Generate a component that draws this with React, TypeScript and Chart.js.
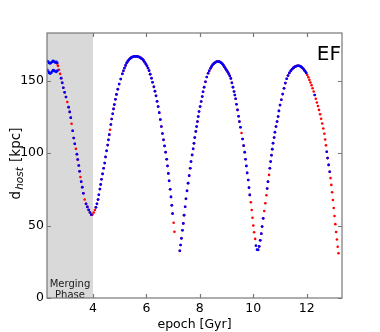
import React, { useEffect, useRef } from 'react';
import { Chart, registerables } from 'chart.js';
Chart.register(...registerables);

const X_MIN = 2.28;
const X_MAX = 13.32;
const Y_MIN = 0;
const Y_MAX = 183;
const xTicks = [4, 6, 8, 10, 12];
const yTicks = [0, 50, 100, 150];
const mergingEnd = 4;
const mergingLabel = ['Merging', 'Phase'];
const panelLabel = 'EF';
const xTitle = 'epoch [Gyr]';
const yTitleMain = 'd';
const yTitleSub = 'host';
const yTitleUnit = ' [kpc]';

// red series: epoch [Gyr], distance [kpc]
const tRed = [
  2.66, 2.69, 2.73, 2.77, 2.81, 2.85, 2.89, 2.94, 2.99, 3.04, 3.09, 3.13, 3.17, 3.20, 3.24, 3.28, 3.32, 3.36, 3.40, 3.43,
  3.47, 3.50, 3.53, 3.56, 3.60, 3.64, 3.69, 3.74, 3.79, 3.84, 3.89, 3.94, 3.98, 4.03, 4.07, 4.11, 4.15, 4.19, 4.22, 4.26,
  4.29, 4.32, 4.36, 4.40, 4.44, 4.47, 4.51, 4.55, 4.58, 4.61, 4.64, 4.67, 4.70, 4.74, 4.77, 4.80, 4.84, 4.88, 4.93, 4.98,
  5.04, 5.10, 5.14, 5.18, 5.22, 5.26, 5.30, 5.34, 5.38, 5.42, 5.46, 5.50, 5.54, 5.58, 5.62, 5.66, 5.70, 5.74, 5.78, 5.82,
  5.86, 5.90, 5.94, 5.98, 6.02, 6.06, 6.10, 6.14, 6.19, 6.23, 6.28, 6.32, 6.36, 6.40, 6.44, 6.48, 6.52, 6.56, 6.60, 6.64,
  6.68, 6.72, 6.76, 6.79, 6.82, 6.85, 6.89, 6.92, 6.95, 6.98, 7.02, 7.05,
  7.25, 7.28, 7.31, 7.35, 7.38, 7.41, 7.45, 7.48, 7.52, 7.56, 7.60, 7.64, 7.67, 7.71, 7.75, 7.78, 7.81, 7.85, 7.88, 7.91,
  7.94, 7.97, 8.01, 8.05, 8.09, 8.12, 8.16, 8.21, 8.26, 8.31, 8.35, 8.40, 8.44, 8.48, 8.52, 8.56, 8.60, 8.64, 8.68, 8.72,
  8.76, 8.80, 8.84, 8.88, 8.92, 8.96, 9.00, 9.04, 9.08, 9.12, 9.16, 9.20, 9.24, 9.28, 9.31, 9.34, 9.37, 9.41, 9.45, 9.48,
  9.52, 9.56, 9.60, 9.64, 9.68, 9.71, 9.74, 9.77, 9.81, 9.84, 9.87, 9.91, 9.94, 9.97, 10.00, 10.03, 10.07,
  10.18, 10.22, 10.26, 10.30, 10.33, 10.37, 10.41, 10.45, 10.49, 10.52, 10.55, 10.59, 10.62, 10.65, 10.68, 10.71, 10.74, 10.78, 10.81, 10.85,
  10.89, 10.93, 10.96, 11.00, 11.05, 11.10, 11.15, 11.20, 11.25, 11.30, 11.35, 11.40, 11.45, 11.50, 11.54, 11.58, 11.62, 11.66, 11.70, 11.74,
  11.78, 11.82, 11.86, 11.90, 11.94, 11.98, 12.02, 12.06, 12.10, 12.14, 12.18, 12.22, 12.26, 12.30, 12.34, 12.38, 12.42, 12.46, 12.50, 12.54,
  12.58, 12.62, 12.66, 12.69, 12.72, 12.75, 12.78, 12.82, 12.86, 12.89, 12.92, 12.95, 12.98, 13.01, 13.04, 13.07, 13.10, 13.13, 13.16, 13.19,
];
const dRed = [
  162.0, 160.3, 157.6, 154.8, 151.8, 148.6, 145.2, 142.0, 138.8, 135.4, 131.8, 128.5, 124.5, 120.3, 115.5, 110.5, 106.5, 103.0, 99.3, 95.6,
  91.5, 87.5, 83.6, 80.3, 76.5, 72.3, 68.0, 65.0, 62.9, 60.8, 59.0, 57.5, 57.6, 59.0, 60.8, 62.6, 65.0, 68.0, 71.3, 75.2,
  78.4, 82.0, 85.7, 89.6, 93.2, 97.4, 101.6, 105.6, 109.2, 112.8, 116.2, 119.8, 123.6, 127.2, 130.6, 133.6, 137.2, 140.6, 144.2, 147.7,
  151.2, 154.8, 156.9, 158.8, 160.6, 162.2, 163.4, 164.4, 165.2, 165.8, 166.3, 166.6, 166.8, 166.9, 166.9, 166.8, 166.6, 166.3, 165.9, 165.3,
  164.8, 163.9, 162.8, 161.6, 160.3, 158.8, 157.0, 154.6, 151.8, 149.0, 145.8, 142.8, 139.6, 135.8, 132.2, 128.0, 123.2, 118.4, 113.6, 109.2,
  105.0, 100.7, 95.8, 91.2, 86.0, 80.9, 75.1, 69.8, 64.0, 58.3, 52.0, 45.8,
  32.6, 36.6, 41.2, 46.8, 51.5, 57.2, 63.0, 68.5, 74.0, 79.3, 84.5, 89.6, 94.2, 98.8, 103.0, 106.8, 110.8, 115.0, 118.4, 121.8,
  125.3, 128.8, 132.2, 135.7, 139.1, 142.4, 145.6, 149.3, 152.6, 155.2, 156.9, 158.6, 159.9, 161.0, 161.8, 162.4, 162.9, 163.2, 163.3, 163.2,
  162.9, 162.4, 161.7, 160.8, 159.6, 158.4, 157.3, 156.2, 154.9, 153.4, 151.6, 148.6, 145.6, 142.6, 140.2, 137.6, 133.8, 129.9, 125.5, 121.8,
  117.9, 113.9, 109.8, 105.2, 100.7, 95.8, 91.2, 86.4, 81.5, 76.2, 71.2, 66.1, 60.8, 55.4, 50.0, 45.4, 40.8,
  33.3, 35.6, 39.8, 44.4, 49.3, 55.0, 60.1, 65.4, 71.0, 75.6, 80.3, 85.0, 89.6, 94.2, 98.6, 102.8, 106.9, 110.8, 114.5, 118.4,
  121.8, 125.3, 129.2, 133.2, 136.9, 140.8, 144.8, 148.4, 151.4, 153.6, 155.4, 156.8, 158.0, 158.9, 159.5, 159.9, 160.2, 160.4, 160.4, 160.2,
  159.8, 159.2, 158.5, 157.6, 156.6, 155.4, 154.0, 152.4, 150.6, 148.8, 146.9, 144.8, 142.6, 140.2, 137.6, 135.0, 132.6, 129.9, 126.9, 123.8,
  120.5, 117.1, 113.4, 109.5, 105.4, 101.0, 96.6, 91.9, 87.2, 82.8, 78.1, 73.0, 67.7, 62.2, 56.6, 51.0, 45.6, 40.4, 35.4, 30.9,
];

// blue series: epoch [Gyr], distance [kpc]
const tBlue = [
  2.29, 2.33, 2.36, 2.40, 2.44, 2.48, 2.51, 2.55, 2.59, 2.63, 2.66,
  2.29, 2.33, 2.36, 2.40, 2.44, 2.48, 2.51, 2.55, 2.59, 2.63, 2.67,
  2.81, 2.85, 2.89, 2.94, 2.99, 3.09, 3.13, 3.17, 3.24, 3.28, 3.32, 3.40, 3.43, 3.47, 3.50, 3.56, 3.60, 3.64, 3.74, 3.79, 3.84, 3.89, 3.94,
  4.11, 4.15, 4.19, 4.22, 4.26, 4.29, 4.32, 4.36, 4.40, 4.44, 4.47, 4.51, 4.55, 4.58, 4.61, 4.67, 4.70, 4.74, 4.77, 4.80,
  4.84, 4.88, 4.93, 4.98, 5.04, 5.10, 5.14, 5.18, 5.22, 5.26, 5.30, 5.34, 5.38, 5.42, 5.46, 5.50, 5.54, 5.58, 5.62, 5.66,
  5.70, 5.74, 5.78, 5.82, 5.86, 5.90, 5.94, 5.98, 6.02, 6.06, 6.10, 6.14, 6.19, 6.23, 6.28, 6.32, 6.36, 6.40, 6.44, 6.48,
  6.52, 6.56, 6.60, 6.64, 6.68, 6.72, 6.76, 6.79, 6.82, 6.85, 6.89, 6.92, 6.95, 6.98,
  7.25, 7.28, 7.31, 7.35, 7.38, 7.41, 7.45, 7.48, 7.52, 7.56, 7.60, 7.64, 7.67, 7.71, 7.75, 7.78, 7.81, 7.85, 7.88, 7.91,
  7.94, 7.97, 8.01, 8.05, 8.09, 8.12, 8.16, 8.21, 8.26, 8.31, 8.35, 8.40, 8.44, 8.48, 8.52, 8.56, 8.60, 8.64, 8.68, 8.72,
  8.76, 8.80, 8.84, 8.88, 8.92, 8.96, 9.00, 9.04, 9.08, 9.12, 9.16, 9.20, 9.24, 9.28, 9.31, 9.34, 9.37, 9.41, 9.45, 9.48,
  9.52, 9.60, 9.64, 9.68, 9.71, 9.74, 9.77, 9.81, 9.84, 9.87,
  10.10, 10.14, 10.18, 10.22, 10.26, 10.30, 10.33, 10.37, 10.52, 10.55, 10.62, 10.65, 10.68, 10.71, 10.74, 10.78, 10.81, 10.85,
  10.89, 10.93, 10.96, 11.00, 11.05, 11.10, 11.15, 11.20, 11.25, 11.30, 11.35, 11.40, 11.45, 11.50, 11.54, 11.58, 11.62, 11.66, 11.70, 11.74,
  11.78, 11.82, 11.86, 11.90, 11.94, 11.98, 12.30, 12.75, 12.78, 12.82, 12.86,
];
const dBlue = [
  163.6, 163.0, 162.3, 162.0, 162.6, 163.3, 163.7, 163.2, 162.6, 163.0, 162.4,
  157.6, 156.4, 155.4, 155.0, 155.6, 156.6, 157.4, 157.0, 156.4, 156.2, 157.0,
  151.8, 148.6, 145.2, 142.0, 138.8, 131.8, 128.5, 124.5, 115.5, 110.5, 106.5, 99.3, 95.6, 91.5, 87.5, 80.3, 76.5, 72.3, 65.0, 62.9, 60.8, 59.0, 57.5,
  62.6, 65.0, 68.0, 71.3, 75.2, 78.4, 82.0, 85.7, 89.6, 93.2, 97.4, 101.6, 105.6, 109.2, 112.8, 119.8, 123.6, 127.2, 130.6, 133.6,
  137.2, 140.6, 144.2, 147.7, 151.2, 154.8, 156.9, 158.8, 160.6, 162.2, 163.4, 164.4, 165.2, 165.8, 166.3, 166.6, 166.8, 166.9, 166.9, 166.8,
  166.6, 166.3, 165.9, 165.3, 164.8, 163.9, 162.8, 161.6, 160.3, 158.8, 157.0, 154.6, 151.8, 149.0, 145.8, 142.8, 139.6, 135.8, 132.2, 128.0,
  123.2, 118.4, 113.6, 109.2, 105.0, 100.7, 95.8, 91.2, 86.0, 80.9, 75.1, 69.8, 64.0, 58.3,
  32.6, 36.6, 41.2, 46.8, 51.5, 57.2, 63.0, 68.5, 74.0, 79.3, 84.5, 89.6, 94.2, 98.8, 103.0, 106.8, 110.8, 115.0, 118.4, 121.8,
  125.3, 128.8, 132.2, 135.7, 139.1, 142.4, 145.6, 149.3, 152.6, 155.2, 156.9, 158.6, 159.9, 161.0, 161.8, 162.4, 162.9, 163.2, 163.3, 163.2,
  162.9, 162.4, 161.7, 160.8, 159.6, 158.4, 157.3, 156.2, 154.9, 153.4, 151.6, 148.6, 145.6, 142.6, 140.2, 137.6, 133.8, 129.9, 125.5, 121.8,
  117.9, 109.8, 105.2, 100.7, 95.8, 91.2, 86.4, 81.5, 76.2, 71.2,
  36.1, 33.4, 33.3, 35.6, 39.8, 44.4, 49.3, 55.0, 75.6, 80.3, 89.6, 94.2, 98.6, 102.8, 106.9, 110.8, 114.5, 118.4,
  121.8, 125.3, 129.2, 133.2, 136.9, 140.8, 144.8, 148.4, 151.4, 153.6, 155.4, 156.8, 158.0, 158.9, 159.5, 159.9, 160.2, 160.4, 160.4, 160.2,
  159.8, 159.2, 158.5, 157.6, 156.6, 155.4, 140.2, 101.0, 96.6, 91.9, 87.2,
];

const FONT = "'DejaVu Sans', sans-serif";
const AXIS_COLOR = '#777777';

const decorPlugin = {
  id: 'decor',
  beforeDatasetsDraw(chart: any) {
    const { ctx, chartArea: a, scales } = chart;
    const x1 = scales.x.getPixelForValue(mergingEnd);
    ctx.save();
    ctx.fillStyle = '#d9d9d9';
    ctx.fillRect(a.left, a.top, x1 - a.left, a.bottom - a.top);
    ctx.fillStyle = '#1a1a1a';
    ctx.font = `10px ${FONT}`;
    ctx.textAlign = 'center';
    ctx.textBaseline = 'alphabetic';
    const cx = (a.left + x1) / 2;
    ctx.fillText(mergingLabel[0], cx, a.bottom - 11);
    ctx.fillText(mergingLabel[1], cx, a.bottom - 0.5);
    ctx.restore();
  },
  afterDatasetsDraw(chart: any) {
    const { ctx, chartArea: a, scales } = chart;
    ctx.save();
    ctx.strokeStyle = AXIS_COLOR;
    ctx.lineWidth = 1.2;
    ctx.strokeRect(a.left, a.top, a.right - a.left, a.bottom - a.top);
    const tl = 4;
    ctx.beginPath();
    for (const v of xTicks) {
      const px = Math.round(scales.x.getPixelForValue(v)) + 0.5;
      ctx.moveTo(px, a.bottom); ctx.lineTo(px, a.bottom - tl);
      ctx.moveTo(px, a.top); ctx.lineTo(px, a.top + tl);
    }
    for (const v of yTicks) {
      const py = Math.round(scales.y.getPixelForValue(v)) + 0.5;
      ctx.moveTo(a.left, py); ctx.lineTo(a.left + tl, py);
      ctx.moveTo(a.right, py); ctx.lineTo(a.right - tl, py);
    }
    ctx.stroke();

    // panel label
    ctx.fillStyle = '#000';
    ctx.font = `20px ${FONT}`;
    ctx.textAlign = 'right';
    ctx.textBaseline = 'alphabetic';
    ctx.fillText(panelLabel, a.right - 1, a.top + 27);

    // y title with subscript
    ctx.translate(19.5, (a.top + a.bottom) / 2 - 2);
    ctx.rotate(-Math.PI / 2);
    const mainFont = `13.5px ${FONT}`;
    const subFont = `italic 10.5px ${FONT}`;
    ctx.font = mainFont;
    const wd = ctx.measureText(yTitleMain).width;
    const wu = ctx.measureText(yTitleUnit).width;
    ctx.font = subFont;
    const ws = ctx.measureText(yTitleSub).width;
    const gap = 1;
    let x0 = -(wd + ws + wu + gap * 2) / 2;
    ctx.textAlign = 'left';
    ctx.font = mainFont;
    ctx.fillText(yTitleMain, x0, 0);
    x0 += wd + gap;
    ctx.font = subFont;
    ctx.fillText(yTitleSub, x0, 3);
    x0 += ws + gap;
    ctx.font = mainFont;
    ctx.fillText(yTitleUnit, x0, 0);
    ctx.restore();
  },
};

export default function App() {
  const ref = useRef<HTMLCanvasElement>(null);
  useEffect(() => {
    const blue = tBlue.map((t, i) => ({ x: t, y: dBlue[i] }));
    const red = tRed.map((t, i) => ({ x: t, y: dRed[i] }));
    const chart = new Chart(ref.current as HTMLCanvasElement, {
      type: 'scatter',
      data: {
        datasets: [
          { label: 'blue', data: blue, order: 0, pointRadius: 1.35, pointBorderWidth: 0, pointBackgroundColor: '#0000ff', pointBorderColor: '#0000ff', showLine: false },
          { label: 'red', data: red, order: 1, pointRadius: 1.3, pointBorderWidth: 0, pointBackgroundColor: '#ff0000', pointBorderColor: '#ff0000', showLine: false },
        ],
      },
      options: {
        animation: false,
        responsive: false,
        devicePixelRatio: 1,
        layout: { padding: { left: 0, top: 33, right: 38, bottom: 0 } },
        plugins: { legend: { display: false }, tooltip: { enabled: false } },
        scales: {
          x: {
            type: 'linear',
            min: X_MIN,
            max: X_MAX,
            afterBuildTicks: (s: any) => { s.ticks = xTicks.map((v) => ({ value: v })); },
            afterFit: (s: any) => { s.height = 34; },
            grid: { display: false, drawTicks: false },
            border: { display: false },
            ticks: { padding: 3, color: '#000', font: { family: FONT, size: 12.5 }, maxRotation: 0 },
            title: { display: true, text: xTitle, color: '#000', font: { family: FONT, size: 12.5 }, padding: { top: 0, bottom: 0 } },
          },
          y: {
            type: 'linear',
            min: Y_MIN,
            max: Y_MAX,
            afterBuildTicks: (s: any) => { s.ticks = yTicks.map((v) => ({ value: v })); },
            afterFit: (s: any) => { s.width = 47; },
            grid: { display: false, drawTicks: false },
            border: { display: false },
            ticks: { padding: 3, color: '#000', font: { family: FONT, size: 12.5 } },
          },
        },
      },
      plugins: [decorPlugin],
    });
    return () => chart.destroy();
  }, []);
  return (
    <div style={{ position: 'fixed', left: 0, top: 0, width: 380, height: 332, background: '#fff' }}>
      <canvas ref={ref} width={380} height={332} style={{ width: 380, height: 332, display: 'block' }} />
    </div>
  );
}
